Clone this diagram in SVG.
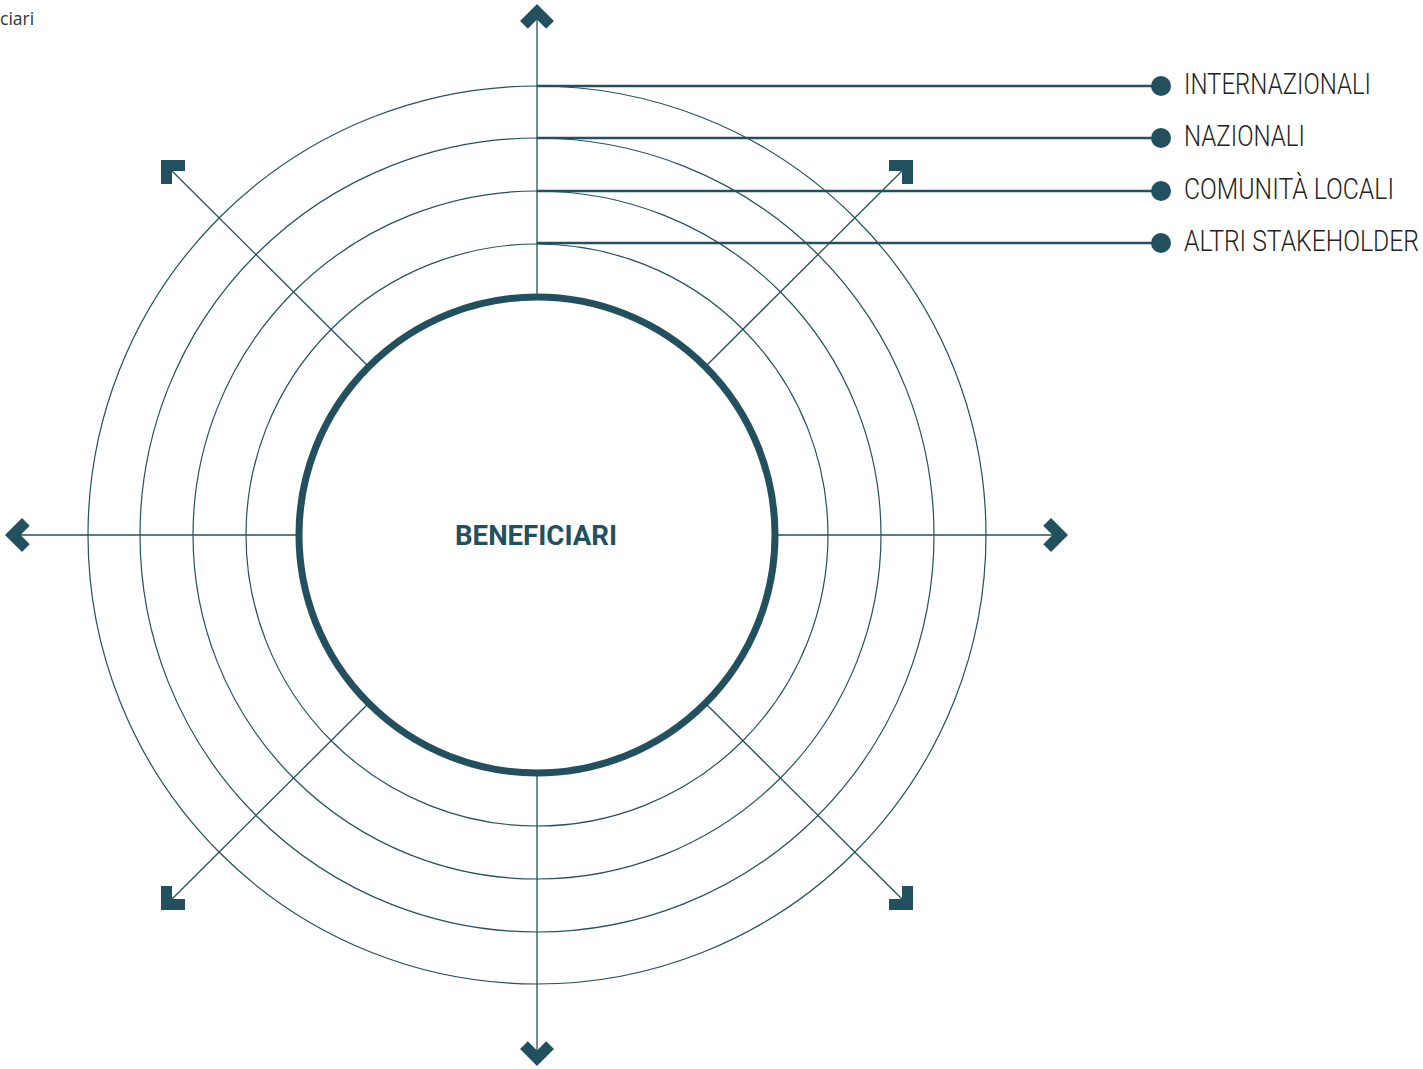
<svg xmlns="http://www.w3.org/2000/svg" width="1423" height="1069" viewBox="0 0 1423 1069">
  <style>
    .ring { fill: none; stroke: #23505F; stroke-width: 1.2; }
    .core { fill: none; stroke: #23505F; stroke-width: 7; }
    .axis { stroke: #23505F; stroke-width: 1.3; fill: none; }
    .lead { stroke: #23505F; stroke-width: 2.6; fill: none; }
    .dot { fill: #23505F; }
    .head { fill: #23505F; }
    .label { font-family: Roboto, "Liberation Sans", sans-serif; font-weight: 300; font-size: 29px; fill: #222; }
    .title { font-family: Roboto, "Liberation Sans", sans-serif; font-weight: 700; font-size: 28px; fill: #23505F; }
    .cut { font-family: "Open Sans", "Liberation Sans", sans-serif; font-size: 17.5px; fill: #333; }
  </style>
  <defs>
    <!-- L-shaped arrowhead, outer corner at origin, pointing to upper-left -->
    <polygon id="chev" points="0,0 24,0 24,11 11,11 11,24 0,24"/>
  </defs>

  <rect width="1423" height="1069" fill="#fff"/>

  <text class="cut" x="0" y="25">ciari</text>

  <g id="connectors">
    <!-- axes from the core outward -->
    <line class="axis" x1="537" y1="10" x2="537" y2="297"/>
    <line class="axis" x1="537" y1="773" x2="537" y2="1060"/>
    <line class="axis" x1="10" y1="535" x2="299" y2="535"/>
    <line class="axis" x1="775" y1="535" x2="1063" y2="535"/>
    <line class="axis" x1="368.7" y1="366.7" x2="166" y2="165"/>
    <line class="axis" x1="705.3" y1="366.7" x2="908" y2="165"/>
    <line class="axis" x1="368.7" y1="703.3" x2="166" y2="905"/>
    <line class="axis" x1="705.3" y1="703.3" x2="908" y2="905"/>
    <!-- arrowheads -->
    <use href="#chev" class="head" transform="translate(161,160)"/>
    <use href="#chev" class="head" transform="translate(913,160) rotate(90)"/>
    <use href="#chev" class="head" transform="translate(913,910) rotate(180)"/>
    <use href="#chev" class="head" transform="translate(161,910) rotate(270)"/>
    <use href="#chev" class="head" transform="translate(537,4) rotate(45)"/>
    <use href="#chev" class="head" transform="translate(1068,535) rotate(135)"/>
    <use href="#chev" class="head" transform="translate(537,1066) rotate(225)"/>
    <use href="#chev" class="head" transform="translate(5,535) rotate(315)"/>
    <!-- leaders from each ring to its legend entry -->
    <line class="lead" x1="537" y1="86" x2="1160" y2="86"/>
    <line class="lead" x1="537" y1="138" x2="1160" y2="138"/>
    <line class="lead" x1="537" y1="191" x2="1160" y2="191"/>
    <line class="lead" x1="537" y1="243" x2="1160" y2="243"/>
  </g>

  <g id="ring-internazionali">
    <circle class="ring" cx="537" cy="535" r="449"/>
    <circle class="dot" cx="1161" cy="86" r="10"/>
    <text class="label" x="1184" y="94" textLength="187" lengthAdjust="spacingAndGlyphs">INTERNAZIONALI</text>
  </g>
  <g id="ring-nazionali">
    <circle class="ring" cx="537" cy="535" r="397"/>
    <circle class="dot" cx="1161" cy="138" r="10"/>
    <text class="label" x="1184" y="146" textLength="121" lengthAdjust="spacingAndGlyphs">NAZIONALI</text>
  </g>
  <g id="ring-comunita">
    <circle class="ring" cx="537" cy="535" r="344"/>
    <circle class="dot" cx="1161" cy="191" r="10"/>
    <text class="label" x="1184" y="199" textLength="210" lengthAdjust="spacingAndGlyphs">COMUNITÀ LOCALI</text>
  </g>
  <g id="ring-stakeholder">
    <circle class="ring" cx="537" cy="535" r="291"/>
    <circle class="dot" cx="1161" cy="243" r="10"/>
    <text class="label" x="1184" y="251" textLength="235" lengthAdjust="spacingAndGlyphs">ALTRI STAKEHOLDER</text>
  </g>

  <g id="beneficiari">
    <circle class="core" cx="537" cy="535" r="238"/>
    <text class="title" x="455" y="545" textLength="162" lengthAdjust="spacingAndGlyphs">BENEFICIARI</text>
  </g>
</svg>
